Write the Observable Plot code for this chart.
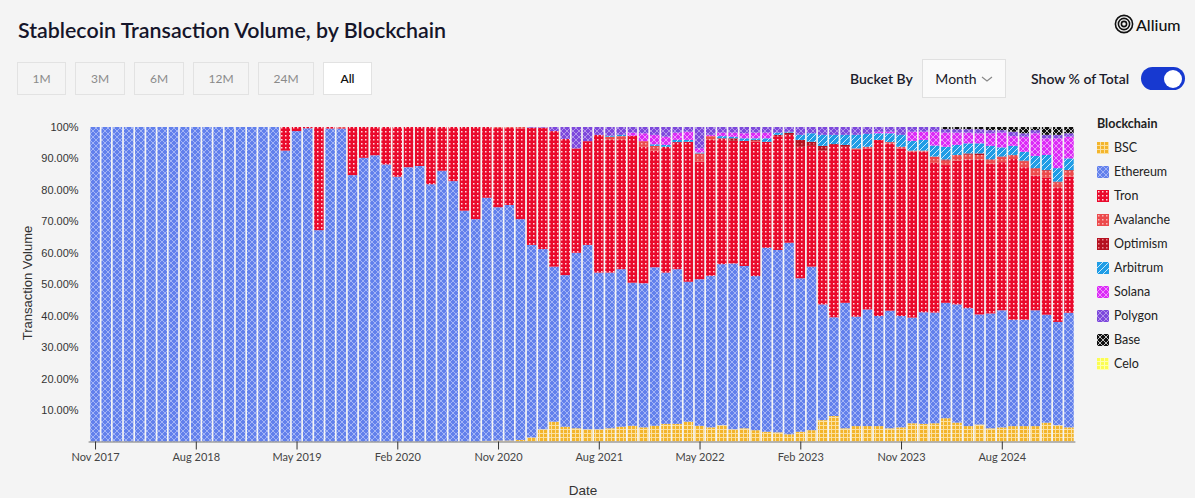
<!DOCTYPE html>
<html>
<head>
<meta charset="utf-8">
<script src="https://cdn.jsdelivr.net/npm/d3@7"></script>
<script src="https://cdn.jsdelivr.net/npm/@observablehq/plot@0.6"></script>
<style>
  body { margin:0; background:#f4f4f4; width:1195px; height:498px; position:relative; overflow:hidden; font-family:Lato, "Noto Sans", sans-serif; color:#1b1b2b; }
  .abs { position:absolute; }
  .title { left:18px; top:15px; font-size:21.4px; font-weight:600; line-height:30px; color:#15152a; }
  .btn { top:62px; height:33px; box-sizing:border-box; border:1px solid #e2e2e2; font-size:12px; color:#8a8a8a; display:flex; align-items:center; justify-content:center; }
  .btn.on { background:#fff; color:#111; font-weight:600; }
  .legend-title { left:1097px; top:115px; font-size:12.5px; font-weight:700; color:#222; line-height:18px; }
  .li { left:1097px; height:16px; display:flex; align-items:center; font-size:12.5px; color:#222; }
  .li svg { margin-right:5px; }
</style>
</head>
<body>
<svg width="0" height="0" style="position:absolute">
  <defs>
    <pattern id="pat-bsc" width="4" height="4" patternUnits="userSpaceOnUse">
      <rect width="4" height="4" fill="#fbe0a0"/><rect width="3" height="3" fill="#f3b52c"/>
    </pattern>
    <pattern id="pat-eth" width="6" height="6" patternUnits="userSpaceOnUse">
      <rect width="6" height="6" fill="#6280ec"/>
      <path d="M0,0L6,6M6,0L0,6" stroke="#b4c2f7" stroke-width="0.8"/>
    </pattern>
    <pattern id="pat-tron" width="4" height="4" patternUnits="userSpaceOnUse">
      <rect width="4" height="4" fill="#ea0a2c"/><rect x="1" y="1" width="1.5" height="1.5" fill="#ffd9df"/>
    </pattern>
    <pattern id="pat-aval" width="4" height="4" patternUnits="userSpaceOnUse">
      <rect width="4" height="4" fill="#ec4a4c"/><rect x="1" y="1" width="1.5" height="1.5" fill="#f9b8b8"/>
    </pattern>
    <pattern id="pat-opt" width="4" height="4" patternUnits="userSpaceOnUse">
      <rect width="4" height="4" fill="#b5101f"/><rect x="1" y="1" width="1.5" height="1.5" fill="#e88a92"/>
    </pattern>
    <pattern id="pat-arb" width="6" height="6" patternUnits="userSpaceOnUse">
      <rect width="6" height="6" fill="#1f9de6"/>
      <path d="M0,6L6,0M-1,1L1,-1M5,7L7,5" stroke="#c8e8fb" stroke-width="1"/>
    </pattern>
    <pattern id="pat-sol" width="6" height="6" patternUnits="userSpaceOnUse">
      <rect width="6" height="6" fill="#dc2af7"/>
      <path d="M0,0L6,6M6,0L0,6" stroke="#f2b0fc" stroke-width="0.8"/>
    </pattern>
    <pattern id="pat-poly" width="6" height="6" patternUnits="userSpaceOnUse">
      <rect width="6" height="6" fill="#7d48dc"/>
      <path d="M0,0L6,6M6,0L0,6" stroke="#c0a8ee" stroke-width="0.8"/>
    </pattern>
    <pattern id="pat-base" width="6" height="6" patternUnits="userSpaceOnUse">
      <rect width="6" height="6" fill="#111"/>
      <path d="M0,0L6,6M6,0L0,6" stroke="#d0d0d0" stroke-width="0.9"/>
    </pattern>
    <pattern id="pat-celo" width="4" height="4" patternUnits="userSpaceOnUse">
      <rect width="4" height="4" fill="#fdffb0"/><rect width="3" height="3" fill="#fbfd52"/>
    </pattern>
  </defs>
</svg>

<div class="abs title">Stablecoin Transaction Volume, by Blockchain</div>
<div class="abs btn" style="left:17px;width:49px">1M</div>
<div class="abs btn" style="left:75px;width:50px">3M</div>
<div class="abs btn" style="left:134px;width:50px">6M</div>
<div class="abs btn" style="left:193px;width:56px">12M</div>
<div class="abs btn" style="left:258px;width:56px">24M</div>
<div class="abs btn on" style="left:323px;width:49px">All</div>

<div class="abs" style="left:1114px;top:14px;display:flex;align-items:center;">
  <svg width="20" height="20" viewBox="0 0 20 20"><g fill="none" stroke="#111" stroke-width="1.6"><circle cx="10" cy="10" r="8.6"/><circle cx="10" cy="10" r="5.6"/><circle cx="10" cy="10" r="2.6"/></g></svg>
  <span style="font-size:16px;font-weight:500;margin-left:2px;color:#111;">Allium</span>
</div>
<div class="abs" style="left:850px;top:69px;font-size:14px;font-weight:600;line-height:20px;color:#1b1b2b;">Bucket By</div>
<div class="abs" style="left:922px;top:59px;width:84px;height:39px;box-sizing:border-box;border:1px solid #e0e0e0;background:#fafafa;display:flex;align-items:center;justify-content:center;font-size:14px;color:#1b1b2b;">Month<svg width="12" height="8" style="margin-left:4px"><path d="M1,2L6,6L11,2" fill="none" stroke="#888" stroke-width="1.2"/></svg></div>
<div class="abs" style="left:1031px;top:69px;font-size:14px;font-weight:600;line-height:20px;color:#1b1b2b;">Show % of Total</div>
<div class="abs" style="left:1141px;top:67px;width:44px;height:23px;border-radius:12px;background:#1739d0;">
  <div style="position:absolute;right:3px;top:2.5px;width:18px;height:18px;border-radius:9px;background:#fff;"></div>
</div>

<div class="abs" style="left:27px;top:283px;transform:translate(-50%,-50%) rotate(-90deg);white-space:nowrap;font-family:'Liberation Sans',Arial,sans-serif;font-size:13px;color:#333;">Transaction Volume</div>
<div class="abs" style="left:583px;top:490px;transform:translate(-50%,-50%);font-family:'Liberation Sans',Arial,sans-serif;font-size:13.5px;color:#333;">Date</div>

<div id="chart" class="abs" style="left:0;top:110px;"></div>
<div id="legend"></div>

<script>
const months = [
 "2017-11","2017-12",
 "2018-01","2018-02","2018-03","2018-04","2018-05","2018-06","2018-07","2018-08","2018-09","2018-10","2018-11","2018-12",
 "2019-01","2019-02","2019-03","2019-04","2019-05","2019-06","2019-07","2019-08","2019-09","2019-10","2019-11","2019-12",
 "2020-01","2020-02","2020-03","2020-04","2020-05","2020-06","2020-07","2020-08","2020-09","2020-10","2020-11","2020-12",
 "2021-01","2021-02","2021-03","2021-04","2021-05","2021-06","2021-07","2021-08","2021-09","2021-10","2021-11","2021-12",
 "2022-01","2022-02","2022-03","2022-04","2022-05","2022-06","2022-07","2022-08","2022-09","2022-10","2022-11","2022-12",
 "2023-01","2023-02","2023-03","2023-04","2023-05","2023-06","2023-07","2023-08","2023-09","2023-10","2023-11","2023-12",
 "2024-01","2024-02","2024-03","2024-04","2024-05","2024-06","2024-07","2024-08","2024-09","2024-10","2024-11","2024-12",
 "2025-01","2025-02"
];

const chains = ["BSC","Ethereum","Tron","Avalanche","Optimism","Arbitrum","Solana","Polygon","Base","Celo"];
const patterns = ["url(#pat-bsc)","url(#pat-eth)","url(#pat-tron)","url(#pat-aval)","url(#pat-opt)","url(#pat-arb)","url(#pat-sol)","url(#pat-poly)","url(#pat-base)","url(#pat-celo)"];

// share of monthly transaction volume, percent
const bsc = [
 0,0,0,0,0,0,0,0,0,0,
 0,0,0,0,0,0,0,0,0,0,
 0,0,0,0,0,0,0,0,0,0,
 0,0,0,0,0,0.2,0.3,0.3,0.5,1.3,
 3.9,6.3,4.7,4.2,3.9,3.9,4.2,4.7,5,4.5,
 5,5.6,5.6,6.3,5,4.5,5.2,3.9,4.2,3.6,
 3.1,2.9,2.3,3.1,3.6,6.8,8.1,4.2,4.9,4.9,
 4.9,4.2,4.5,5.8,5.6,5.8,7.4,6,4.9,5.4,
 4.2,4.5,4.9,4.9,4.9,6,5.2,4.5
];
const ethereum = [
 100,100,100,100,100,100,100,100,100,100,
 100,100,100,100,100,100,100,92.5,98.7,99.6,
 67.2,99.5,99.5,84.7,90.2,91,88.1,84.2,87.2,87.6,
 81.8,86.1,82.8,73.4,70.7,77.3,74.2,74.9,70.2,61.2,
 57.3,49.3,48.2,55.8,58.6,49.8,49.5,50.1,45.5,45.8,
 50.4,48.1,49.2,44.5,46.6,48.2,51.2,52.7,51.6,49,
 58.5,58,60.9,48.8,52,36.8,31.4,39.9,34.8,37.1,
 35,37.4,35.4,33.6,35.5,35.2,36.7,37.6,37.5,35,
 36.6,37.3,33.9,33.9,36.9,34.4,32.9,36.5
];
const tron = [
 0,0,0,0,0,0,0,0,0,0,
 0,0,0,0,0,0,0,7.5,1.3,0.4,
 32.8,0.5,0.2,15.3,9.8,9,11.9,15.8,12.8,12.4,
 18.2,13.9,17.2,26.6,29.3,22.5,25.2,24.5,28.9,37.3,
 38.6,43.1,43.3,33.2,33,43.8,42.2,41.1,46.7,43.4,
 37.1,40,40.4,44.5,37.4,43.2,40,39,39.8,42.7,
 33.7,36.2,34.3,41.8,38.4,48.9,54.8,49.6,53,51.2,
 56,53.2,53.3,52.8,51.1,47.6,43.8,45.7,47.3,49.3,
 47.7,47.2,51.2,48.6,42.9,43.6,42.9,43.4
];
const avalanche = [
 0,0,0,0,0,0,0,0,0,0,
 0,0,0,0,0,0,0,0,0,0,
 0,0,0.3,0,0,0,0,0,0,0,
 0,0,0,0,0,0,0.3,0.3,0.4,0,
 0,0,0,0,0,0,1,1.2,0,1.8,
 1.5,0,0,0,2.6,1.2,0,0,0,0.3,
 0,0,0,0,0,0,0,0,0.5,0.5,
 0,0.4,0.5,0.3,0.3,2,1.4,1.8,1.5,1.4,
 1.2,1.6,1.1,1.9,2.2,2.3,1.6,1.9
];
const optimism = [
 0,0,0,0,0,0,0,0,0,0,
 0,0,0,0,0,0,0,0,0,0,
 0,0,0,0,0,0,0,0,0,0,
 0,0,0,0,0,0,0,0,0,0,
 0,0,0,0,0,0,0,0,0,0,
 0,0,0,0,0,0,0,0.8,0,0.3,
 0,0.4,0.7,2.2,1.3,1.5,0.3,0.6,0,0,
 0,0,0,0,0,0,0.4,0,0.4,0.5,
 0.2,0.2,0.2,0.2,0.2,0.2,0.2,0.2
];
const arbitrum = [
 0,0,0,0,0,0,0,0,0,0,
 0,0,0,0,0,0,0,0,0,0,
 0,0,0,0,0,0,0,0,0,0,
 0,0,0,0,0,0,0,0,0,0,
 0,0,0,0,0,0,0.3,0.4,0,0,
 0.5,0.6,0.7,0.6,0.3,0,0.7,0.5,0.8,0.5,
 1.1,0.7,0.3,1.6,2.7,3.5,2.9,3.2,4.3,4.1,
 2.1,2.8,3.8,3.1,3.4,3.5,4,3.2,3.2,3.2,
 4.3,2.9,2.9,2.8,3.9,4.8,4.3,3.7
];
const solana = [
 0,0,0,0,0,0,0,0,0,0,
 0,0,0,0,0,0,0,0,0,0,
 0,0,0,0,0,0,0,0,0,0,
 0,0,0,0,0,0,0,0,0,0,
 0,0,0,0,0,0,0,0,1,2.5,
 3,2.6,2.3,2.6,1.3,0.4,1.1,1.3,1.6,1.8,
 1.8,0,0,0,0,0,0,0,0,0,
 0.5,0.5,0,2.9,2.6,4.4,4.5,3.9,3.4,3.2,
 4,4.7,3.1,4.8,7.2,5.3,9.5,6.9
];
const polygon = [
 0,0,0,0,0,0,0,0,0,0,
 0,0,0,0,0,0,0,0,0,0,
 0,0,0,0,0,0,0,0,0,0,
 0,0,0,0,0,0,0,0,0,0.2,
 0.2,1.3,3.8,6.8,4.5,2.5,2.8,2.5,1.8,2,
 2.5,3.1,1.8,1.5,6.8,2.5,1.8,1.8,2,1.8,
 1.8,1.8,1.5,2.5,2,2.5,2.5,2.5,2.5,2.2,
 1.5,1.5,2.5,1.5,1.5,1.5,1.1,1.1,1.1,1.3,
 1,0.8,1.4,1.1,1,1.1,1.1,1.1
];
const base = [
 0,0,0,0,0,0,0,0,0,0,
 0,0,0,0,0,0,0,0,0,0,
 0,0,0,0,0,0,0,0,0,0,
 0,0,0,0,0,0,0,0,0,0,
 0,0,0,0,0,0,0,0,0,0,
 0,0,0,0,0,0,0,0,0,0,
 0,0,0,0,0,0,0,0,0,0,
 0,0,0,0,0,0,0.7,0.7,0.7,0.7,
 1,1,1.5,2,1,2.5,2.5,2
];
const celo = [
 0,0,0,0,0,0,0,0,0,0,
 0,0,0,0,0,0,0,0,0,0,
 0,0,0,0,0,0,0,0,0,0,
 0,0,0,0,0,0,0,0,0,0,
 0,0,0,0,0,0,0,0,0,0,
 0,0,0,0,0,0,0,0,0,0,
 0,0,0,0,0,0,0,0,0,0,
 0,0,0,0,0,0,0,0,0,0,
 0,0,0,0,0,0,0,0
];

const xTicks = ["2017-11","2018-08","2019-05","2020-02","2020-11","2021-08","2022-05","2023-02","2023-11","2024-08"];
const xTickLabels = ["Nov 2017","Aug 2018","May 2019","Feb 2020","Nov 2020","Aug 2021","May 2022","Feb 2023","Nov 2023","Aug 2024"];
const yTicks = [0.1,0.2,0.3,0.4,0.5,0.6,0.7,0.8,0.9,1];
const yTickLabels = ["10.00%","20.00%","30.00%","40.00%","50.00%","60.00%","70.00%","80.00%","90.00%","100%"];

const seriesValues = [bsc, ethereum, tron, avalanche, optimism, arbitrum, solana, polygon, base, celo];
const rows = [];
chains.forEach((c, k) => months.forEach((m, i) => rows.push({month: m, chain: c, value: seriesValues[k][i]})));

const chart = Plot.plot({
  width: 1085,
  height: 388,
  marginLeft: 88.6,
  marginRight: 9.6,
  marginTop: 17,
  marginBottom: 56.5,
  style: {background: "transparent", overflow: "visible"},
  x: {type: "band", domain: months, padding: 0.15, round: false, axis: null},
  y: {domain: [0, 1], axis: null},
  color: {domain: chains, range: patterns},
  marks: [
    Plot.barY(rows, Plot.stackY({x: "month", y: "value", fill: "chain", offset: "normalize"})),
    Plot.ruleY([0], {stroke: "#777", strokeWidth: 1}),
    Plot.axisX({ticks: xTicks, tickFormat: d => xTickLabels[xTicks.indexOf(d)], tickSize: 8, tickPadding: 3,
      label: null, fontSize: 11, fontFamily: "Lato", fill: "#444", stroke: "#333"}),
    Plot.axisY({ticks: yTicks, tickFormat: d => yTickLabels[yTicks.indexOf(d)], tickSize: 0, tickPadding: 10.5,
      label: null, fontSize: 11, fontFamily: "Liberation Sans", fill: "#333"})
  ]
});
document.getElementById("chart").appendChild(chart);

const legend = document.getElementById("legend");
const lt = document.createElement("div");
lt.className = "abs legend-title";
lt.textContent = "Blockchain";
legend.appendChild(lt);
chains.forEach((c, k) => {
  const d = document.createElement("div");
  d.className = "abs li";
  d.style.top = (139.7 + 24 * k) + "px";
  d.innerHTML = `<svg width="12" height="12"><rect width="12" height="12" fill="${patterns[k]}"/></svg><span>${c}</span>`;
  legend.appendChild(d);
});
</script>
</body>
</html>
